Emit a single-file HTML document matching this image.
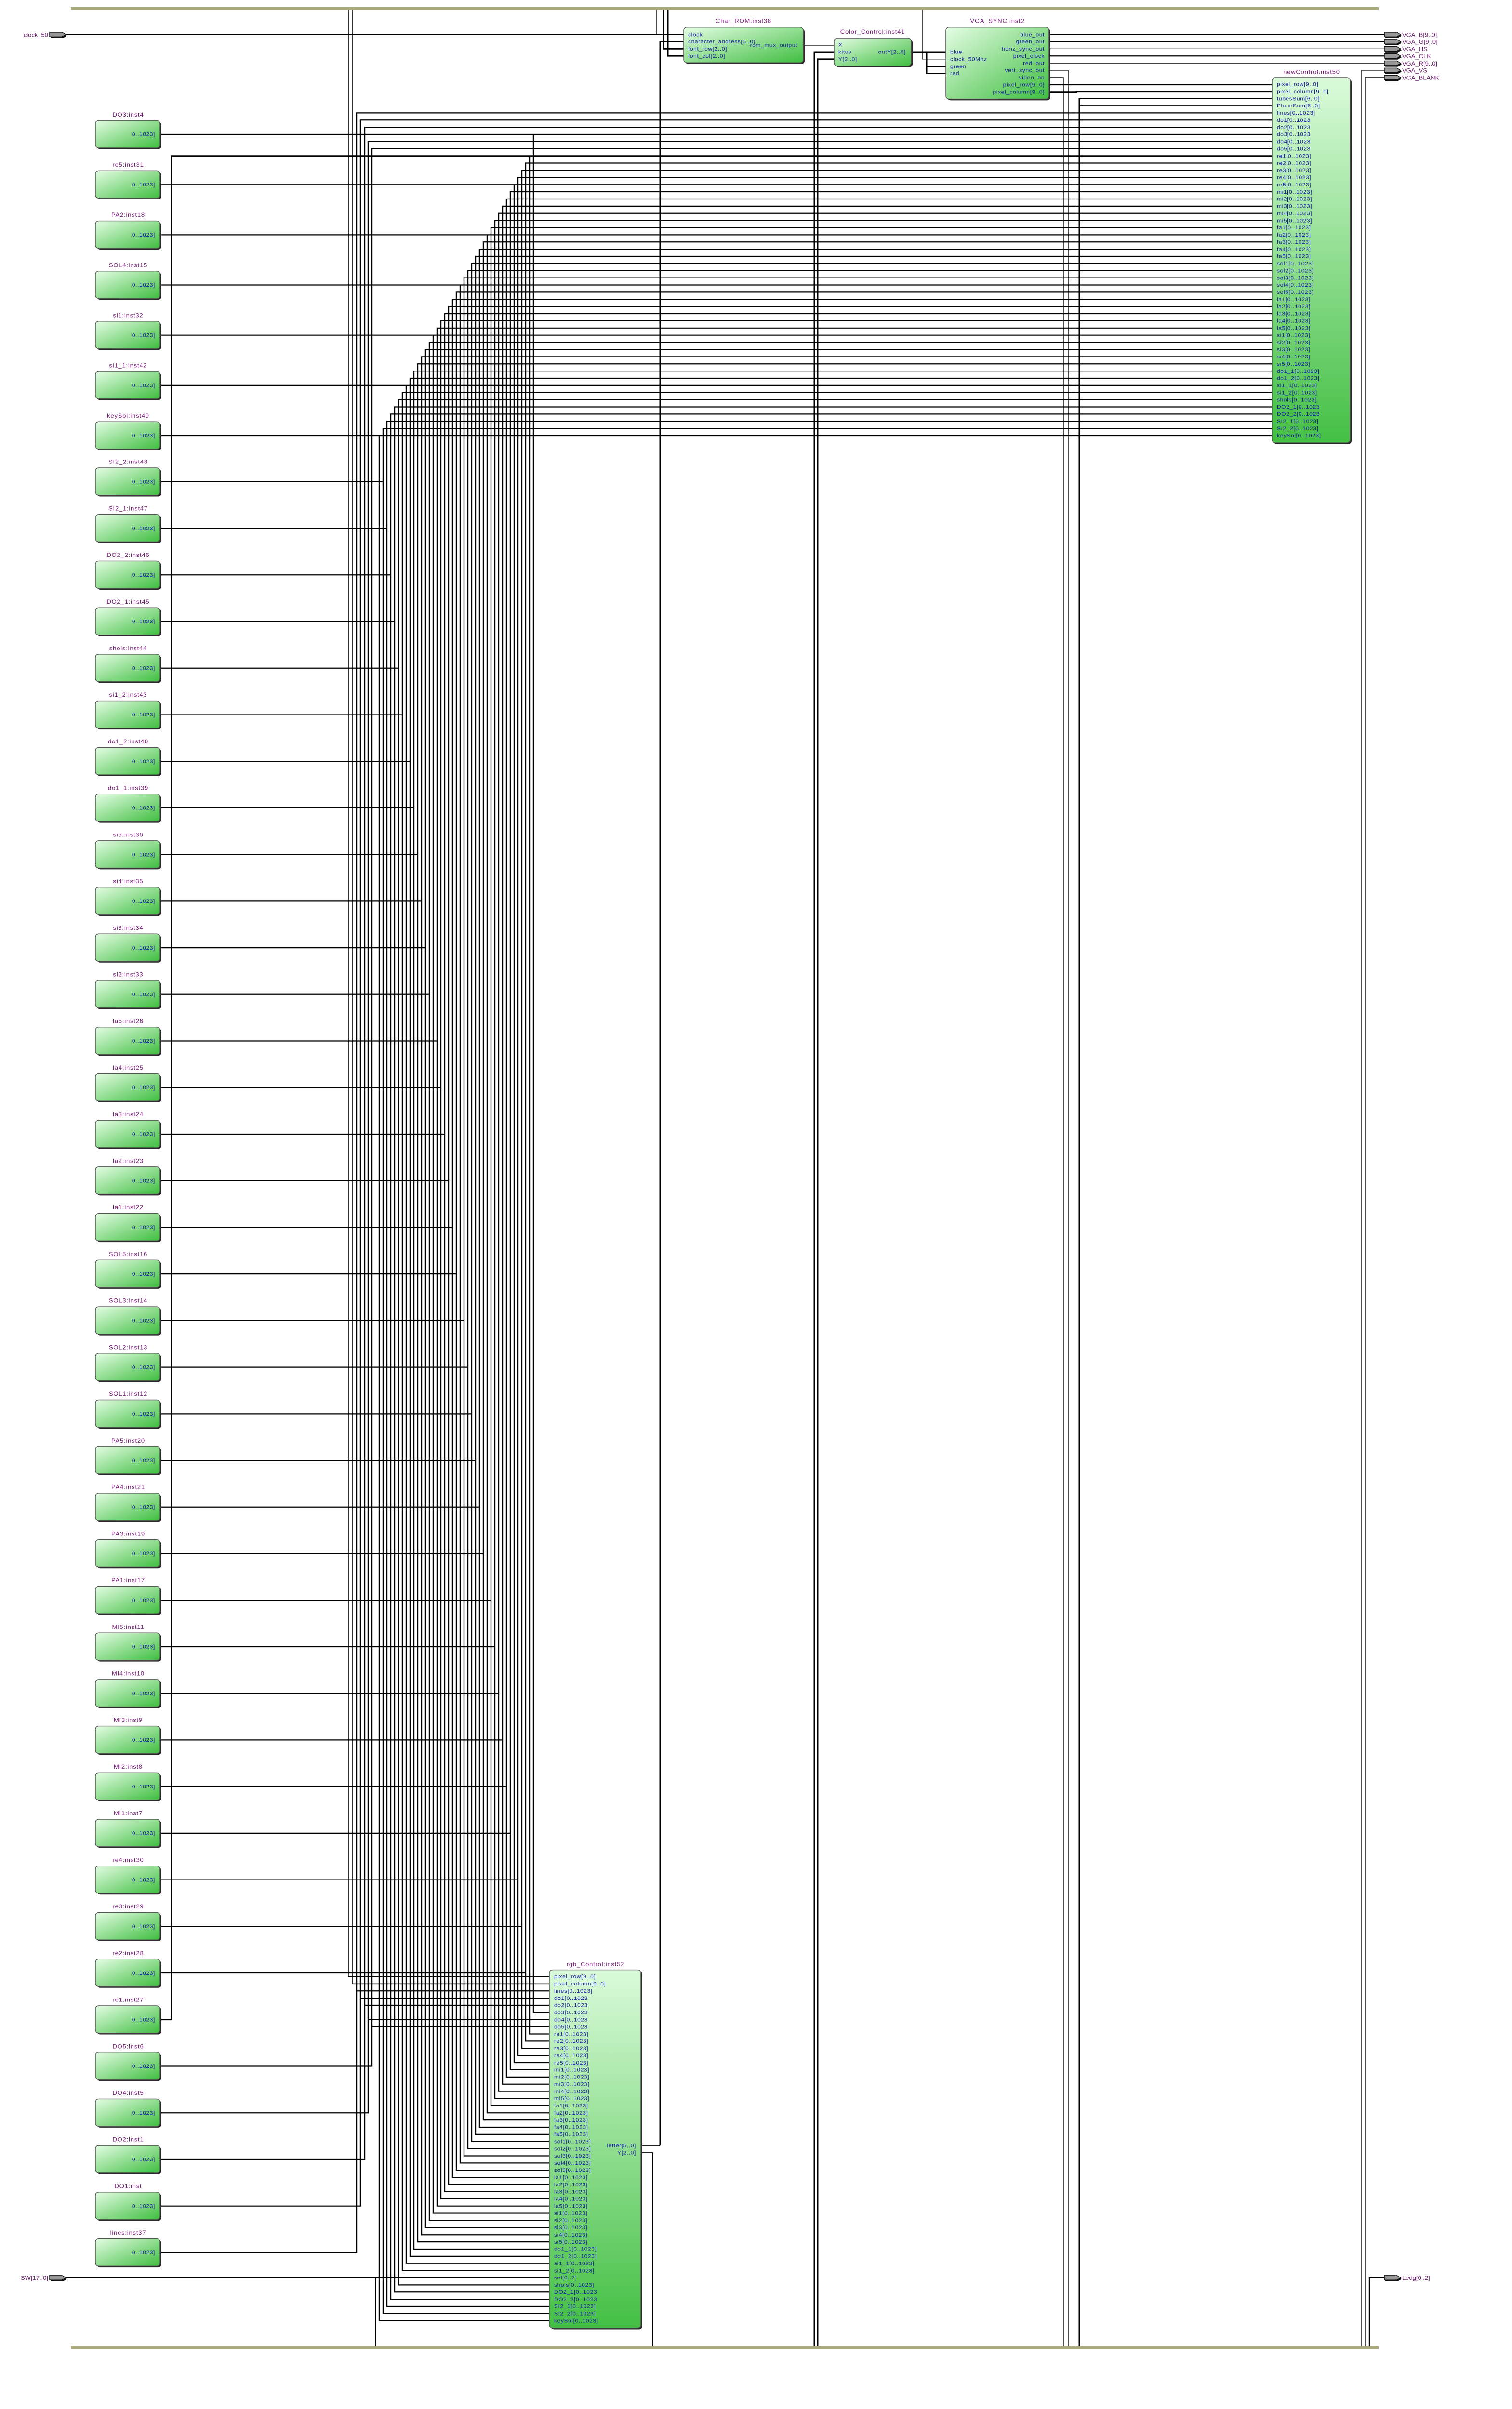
<!DOCTYPE html>
<html><head><meta charset="utf-8">
<style>
html,body{margin:0;padding:0;background:#fff;width:100%;height:100%;overflow:hidden;}
svg{display:block;position:fixed;left:0;top:0;width:100vw;height:100vh;}
text{font-family:"Liberation Sans",Arial,sans-serif;}
.port{font-size:12px;fill:#1a1aa8;letter-spacing:0.6px;}
.title{font-size:13px;fill:#7a1a7a;letter-spacing:0.8px;}
.pinlbl{font-size:13px;fill:#6a1a6a;}
</style></head>
<body>
<svg id="sch" xmlns="http://www.w3.org/2000/svg" viewBox="0 0 3138 5376" preserveAspectRatio="none">
<defs>
<linearGradient id="gDiag" x1="0" y1="0" x2="1" y2="1"><stop offset="0" stop-color="#e4fde4"/><stop offset="1" stop-color="#3fbe3f"/></linearGradient>
<linearGradient id="gVert" x1="0" y1="0" x2="0" y2="1"><stop offset="0" stop-color="#dafbda"/><stop offset="1" stop-color="#44c044"/></linearGradient>
</defs>
<g id="wires" fill="none" stroke="#000"></g>
<g id="blocks"></g>
</svg>
<script>
// ---- data arrays ----
const ncKeys = ['row','col','tubes','place','lines','do1','do2','do3','do4','do5','re1','re2','re3','re4','re5','mi1','mi2','mi3','mi4','mi5','fa1','fa2','fa3','fa4','fa5','sol1','sol2','sol3','sol4','sol5','la1','la2','la3','la4','la5','si1','si2','si3','si4','si5','do1_1','do1_2','si1_1','si1_2','shols','DO2_1','DO2_2','SI2_1','SI2_2','keySol'];
const ncLabels = ['pixel_row[9..0]','pixel_column[9..0]','tubesSum[6..0]','PlaceSum[6..0]','lines[0..1023]','do1[0..1023','do2[0..1023','do3[0..1023','do4[0..1023','do5[0..1023','re1[0..1023]','re2[0..1023]','re3[0..1023]','re4[0..1023]','re5[0..1023]','mi1[0..1023]','mi2[0..1023]','mi3[0..1023]','mi4[0..1023]','mi5[0..1023]','fa1[0..1023]','fa2[0..1023]','fa3[0..1023]','fa4[0..1023]','fa5[0..1023]','sol1[0..1023]','sol2[0..1023]','sol3[0..1023]','sol4[0..1023]','sol5[0..1023]','la1[0..1023]','la2[0..1023]','la3[0..1023]','la4[0..1023]','la5[0..1023]','si1[0..1023]','si2[0..1023]','si3[0..1023]','si4[0..1023]','si5[0..1023]','do1_1[0..1023]','do1_2[0..1023]','si1_1[0..1023]','si1_2[0..1023]','shols[0..1023]','DO2_1[0..1023','DO2_2[0..1023','SI2_1[0..1023]','SI2_2[0..1023]','keySol[0..1023]'];
const rgbKeys = ['row','col','lines','do1','do2','do3','do4','do5','re1','re2','re3','re4','re5','mi1','mi2','mi3','mi4','mi5','fa1','fa2','fa3','fa4','fa5','sol1','sol2','sol3','sol4','sol5','la1','la2','la3','la4','la5','si1','si2','si3','si4','si5','do1_1','do1_2','si1_1','si1_2','sel','shols','DO2_1','DO2_2','SI2_1','SI2_2','keySol'];
const rgbLabels = ['pixel_row[9..0]','pixel_column[9..0]','lines[0..1023]','do1[0..1023','do2[0..1023','do3[0..1023','do4[0..1023','do5[0..1023','re1[0..1023]','re2[0..1023]','re3[0..1023]','re4[0..1023]','re5[0..1023]','mi1[0..1023]','mi2[0..1023]','mi3[0..1023]','mi4[0..1023]','mi5[0..1023]','fa1[0..1023]','fa2[0..1023]','fa3[0..1023]','fa4[0..1023]','fa5[0..1023]','sol1[0..1023]','sol2[0..1023]','sol3[0..1023]','sol4[0..1023]','sol5[0..1023]','la1[0..1023]','la2[0..1023]','la3[0..1023]','la4[0..1023]','la5[0..1023]','si1[0..1023]','si2[0..1023]','si3[0..1023]','si4[0..1023]','si5[0..1023]','do1_1[0..1023]','do1_2[0..1023]','si1_1[0..1023]','si1_2[0..1023]','sel[0..2]','shols[0..1023]','DO2_1[0..1023','DO2_2[0..1023','SI2_1[0..1023]','SI2_2[0..1023]','keySol[0..1023]'];
const srcNames = ['DO3:inst4','re5:inst31','PA2:inst18','SOL4:inst15','si1:inst32','si1_1:inst42','keySol:inst49','SI2_2:inst48','SI2_1:inst47','DO2_2:inst46','DO2_1:inst45','shols:inst44','si1_2:inst43','do1_2:inst40','do1_1:inst39','si5:inst36','si4:inst35','si3:inst34','si2:inst33','la5:inst26','la4:inst25','la3:inst24','la2:inst23','la1:inst22','SOL5:inst16','SOL3:inst14','SOL2:inst13','SOL1:inst12','PA5:inst20','PA4:inst21','PA3:inst19','PA1:inst17','MI5:inst11','MI4:inst10','MI3:inst9','MI2:inst8','MI1:inst7','re4:inst30','re3:inst29','re2:inst28','re1:inst27','DO5:inst6','DO4:inst5','DO2:inst1','DO1:inst','lines:inst37'];
const srcKeys = ['do3','re5','fa2','sol4','si1','si1_1','keySol','SI2_2','SI2_1','DO2_2','DO2_1','shols','si1_2','do1_2','do1_1','si5','si4','si3','si2','la5','la4','la3','la2','la1','sol5','sol3','sol2','sol1','fa5','fa4','fa3','fa1','mi5','mi4','mi3','mi2','mi1','re4','re3','re2','re1','do5','do4','do2','do1','lines'];
const directKeys = ['do3','re5','fa2','sol4','si1','si1_1','keySol'];
const leftBusKeys = ['lines','do1','do2','do4','do5'];
const outPins = ['VGA_B[9..0]','VGA_G[9..0]','VGA_HS','VGA_CLK','VGA_R[9..0]','VGA_VS','VGA_BLANK'];
const syncOuts = ['blue_out','green_out','horiz_sync_out','pixel_clock','red_out','vert_sync_out','video_on','pixel_row[9..0]','pixel_column[9..0]'];
const syncIns = ['blue','clock_50Mhz','green','red'];
const romIns = ['clock','character_address[5..0]','font_row[2..0]','font_col[2..0]'];
const ccIns = ['X','kituv','Y[2..0]'];

// ---- geometry helpers ----
const NS='http://www.w3.org/2000/svg';
const W=document.getElementById('wires'), B=document.getElementById('blocks');
function el(tag,attrs,parent){const e=document.createElementNS(NS,tag);for(const k in attrs)e.setAttribute(k,attrs[k]);parent.appendChild(e);return e;}
function txt(s,x,y,cls,anchor,parent){const t=el('text',{x:x,y:y,class:cls,'text-anchor':anchor||'start'},parent);t.textContent=s;return t;}
const ncY=p=>188+16*p, rgbY=q=>4411+16*q;
const NC_X=2640, RGB_X=1140, SRC_R=334;
const stairKeys = rgbKeys.filter(k=>!['row','col','lines','do1','do2','do4','do5','sel'].includes(k));
const stairX=k=>1107-8*stairKeys.indexOf(k);
const leftBusX=k=>[740,748,757,764,772][leftBusKeys.indexOf(k)];
function srcY(i){return i<7?300+112*i:1075+104*(i-7);}
function wire(d,w){const p=el('path',{d:d,'stroke-width':w||2.4},W);

return p;}

// frame bars
const tb=el('rect',{x:147,y:16,width:2714,height:6,fill:'#a9a97a'},B);

const bb=el('rect',{x:147,y:5236,width:2714,height:6,fill:'#a9a97a'},B);


// source wiring
srcKeys.forEach((k,i)=>{
  const ys=srcY(i), p=ncKeys.indexOf(k), q=rgbKeys.indexOf(k), yt=ncY(p), yb=rgbY(q);
  if(directKeys.includes(k)){
    const xv=stairX(k);
    wire(`M${SRC_R},${ys}H${NC_X}`);
    wire(`M${xv},${ys}V${yb}H${RGB_X}`);
  } else if(leftBusKeys.includes(k)){
    const xv=leftBusX(k);
    wire(`M${SRC_R},${ys}H${xv}V${yt}H${NC_X}`);
    wire(`M${xv},${yb}H${RGB_X}`);
  } else if(k==='re1'){
    const xv=stairX(k);
    wire(`M${SRC_R},${ys}H356V${yt}H${NC_X}`,3);
    wire(`M${xv},${yt}V${yb}H${RGB_X}`);
  } else {
    const xv=stairX(k);
    wire(`M${SRC_R},${ys}H${xv}`);
    wire(`M${NC_X},${yt}H${xv}V${yb}H${RGB_X}`);
  }
});
// pixel row/col to rgb
wire(`M723,22V${rgbY(0)}H${RGB_X}`,1.6);
wire(`M731,22V${rgbY(1)}H${RGB_X}`,1.6);
// sel from SW pin
wire(`M136,${rgbY(42)}H${RGB_X}`);
wire(`M780,${rgbY(42)}V5236`,2);
// clock
wire(`M136,77H1419`,1.4);
wire(`M1362,22V77`,1.4);
wire(`M1914,22V132H1963`,1.4);
// char rom inputs
wire(`M1370,4788V93H1419`,3);
wire(`M1377,22V109H1419`,3);
wire(`M1386,22V125H1419`,3);
// rom -> color control
wire(`M1667,101H1731`,1.6);
wire(`M1690,5236V116H1731`,3);
wire(`M1697,5236V132H1731`,3);
// color control -> vga sync
wire(`M1891,116H1963M1923,116V164H1963M1923,148H1963`,3);
// letter/Y outputs of rgb
wire(`M1332,4788H1370`,1.6);
wire(`M1332,4804H1354V5236`,2);
// vga sync outputs to pins
[0,1,2,3,4].forEach(i=>wire(`M2177,${77+16*i}H2873`,i%2?2.4:1.4));
wire(`M2177,157H2217V5236`,1.4);
wire(`M2177,173H2207V5236`,1.4);
wire(`M2177,189H${NC_X}`,3);
wire(`M2177,205H2234V204H${NC_X}`,3);
wire(`M2240,5236V220H${NC_X}M2240,236H${NC_X}`,3);
wire(`M2873,157H2826V5236`,1.4);
wire(`M2873,173H2833V5236`,1.4);
wire(`M2873,5083H2842V5236`,2.4);

// ---- blocks ----
function block(x,y,w,h,grad,name,title,tx,ty){
  const g=el('g',{},B);
  
  
  el('rect',{x:x+3,y:y+3,width:w,height:h,rx:7,fill:'#2a2a2a'},g);
  el('rect',{x:x,y:y,width:w,height:h,rx:7,fill:'url(#'+grad+')',stroke:'#555','stroke-width':1.5},g);
  const t=txt(title,tx,ty,'title','middle',g);
  
  
  return g;
}
srcNames.forEach((n,i)=>{
  const ys=srcY(i);
  const g=block(198,ys-31,134,61,'gDiag','source-block',n,266,ys-40);
  const t=txt('0..1023]',322,ys+4,'port','end',g);
  
  
});
// newControl
const nc=block(2640,173,162,815,'gVert','new-control-block','newControl:inst50',2722,165);
ncLabels.forEach((s,p)=>{const t=txt(s,2650,ncY(p)+4,'port','start',nc);
});
// rgb_Control
const rc=block(1140,4396,190,799,'gVert','rgb-control-block','rgb_Control:inst52',1236,4388);
rgbLabels.forEach((s,q)=>{const t=txt(s,1150,rgbY(q)+4,'port','start',rc);
});
txt('letter[5..0]',1320,4792,'port','end',rc);
txt('Y[2..0]',1320,4808,'port','end',rc);
// Char_ROM
const cr=block(1419,61,248,79,'gDiag','char-rom-block','Char_ROM:inst38',1543,51);
romIns.forEach((s,i)=>txt(s,1428,81+16*i,'port','start',cr));
txt('rom_mux_output',1655,105,'port','end',cr);
// Color_Control
const cc=block(1731,85,160,62,'gDiag','color-control-block','Color_Control:inst41',1811,75);
ccIns.forEach((s,i)=>txt(s,1740,104+16*i,'port','start',cc));
txt('outY[2..0]',1880,120,'port','end',cc);
// VGA_SYNC
const vs=block(1963,61,214,160,'gDiag','vga-sync-block','VGA_SYNC:inst2',2070,51);
syncOuts.forEach((s,i)=>txt(s,2168,81+16*i,'port','end',vs));
syncIns.forEach((s,i)=>txt(s,1972,120+16*i,'port','start',vs));

// ---- pins ----
function pin(x,y,label,right,name){
  const g=el('g',{},B);
  
  
  el('polygon',{points:`${x+2},${y-3} ${x+28},${y-3} ${x+36},${y+3} ${x+28},${y+8} ${x+2},${y+8}`,fill:'#111'},g);
  el('polygon',{points:`${x},${y-5} ${x+26},${y-5} ${x+34},${y} ${x+26},${y+5} ${x},${y+5}`,fill:'#999',stroke:'#111','stroke-width':1.5},g);
  if(right) txt(label,x+37,y+5,'pinlbl','start',g); else txt(label,x-3,y+5,'pinlbl','end',g);
}
pin(103,77,'clock_50',false,'clock-50-pin');
pin(103,5083,'SW[17..0]',false,'sw-pin');
outPins.forEach((s,i)=>pin(2873,77+16*i,s,true,'output-pin'));
pin(2873,5083,'Ledg[0..2]',true,'ledg-pin');
</script>
</body></html>
